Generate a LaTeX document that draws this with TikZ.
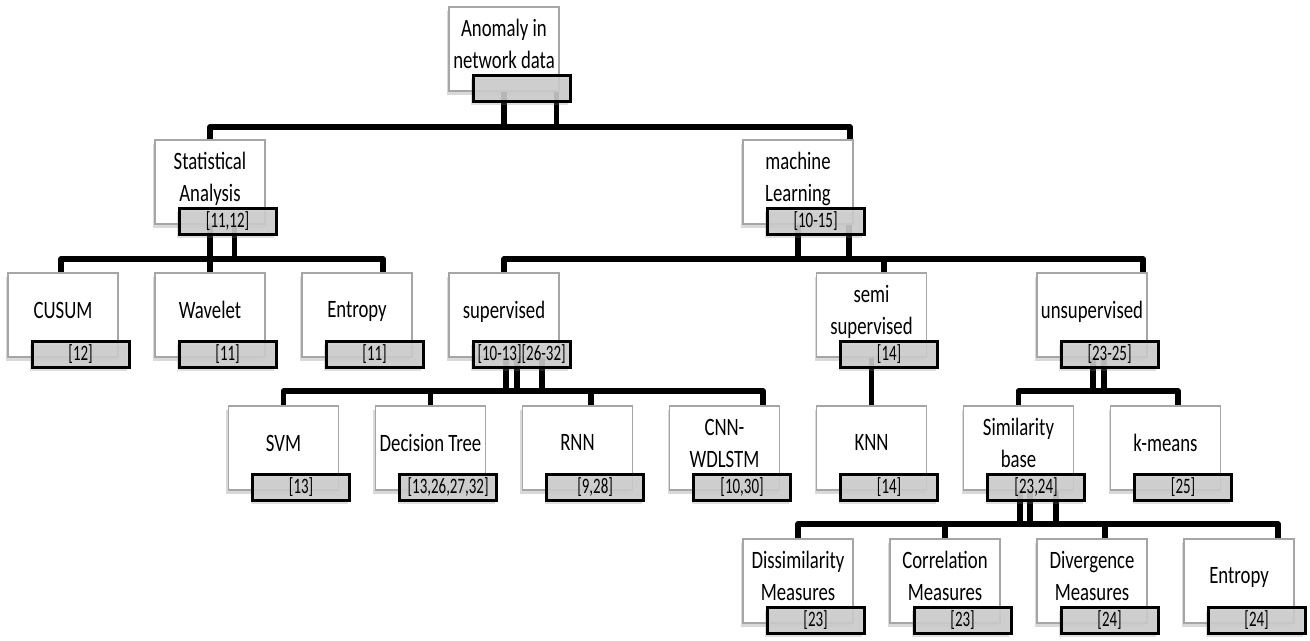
\documentclass[tikz,border=0pt]{standalone}
\usepackage{fontspec}
\setmainfont{Carlito}[FakeStretch=0.75]
\newfontfamily\reffont{Carlito}[FakeStretch=0.68]
\usetikzlibrary{positioning,shadows}

\begin{document}
\begin{tikzpicture}[
    x=36.75pt, y=-66.5pt,
    box/.style={draw=black!35, line width=0.6pt, fill=white, minimum width=55pt, minimum height=42pt, inner sep=1pt, align=center, text depth=5pt, font=\fontsize{12.5}{16}\selectfont, drop shadow={shadow xshift=-1pt, shadow yshift=-2pt, opacity=0.3}},
    ref/.style={draw=black, line width=1.5pt, fill=black!20, fill opacity=0.88, text opacity=1, minimum width=48.5pt, minimum height=13pt, inner sep=0pt, outer sep=0pt, anchor=north east, font=\reffont\fontsize{11}{12}\selectfont, drop shadow={shadow xshift=-1pt, shadow yshift=-2pt, opacity=0.25}},
    link/.style={line width=2.9pt, line join=round},
    node distance=17.9pt
  ]
  \useasboundingbox (-0.857,-0.368) rectangle (16.966,4.451);

  \node[box] (anomaly) at (6,0) {Anomaly in\\network data};
  \node[box] (stat) at (2,1) {Statistical\\Analysis};
  \node[box] (ml) at (10,1) {machine\\Learning};
  \node[box] (cusum) at (0,2) {CUSUM};
  \node[box, right=of cusum] (wavelet) {Wavelet};
  \node[box, right=of wavelet] (entropy) {Entropy};
  \node[box, right=of entropy] (sup) {supervised};
  \node[box] (semi) at (11,2) {semi\\supervised};
  \node[box] (unsup) at (14,2) {unsupervised};
  \node[box] (svm) at (3,3) {SVM};
  \node[box, right=of svm] (dtree) {Decision Tree};
  \node[box, right=of dtree] (rnn) {RNN};
  \node[box, right=of rnn] (cnn) {CNN-\\WDLSTM};
  \node[box, right=of cnn] (knn) {KNN};
  \node[box, right=of knn] (simil) {Similarity\\base};
  \node[box, right=of simil] (kmeans) {k-means};
  \node[box] (dissim) at (10,4) {Dissimilarity\\Measures};
  \node[box, right=of dissim] (correl) {Correlation\\Measures};
  \node[box, right=of correl] (diverg) {Divergence\\Measures};
  \node[box, right=of diverg] (entropy2) {Entropy};

  \draw[link] (anomaly.south) -- ++(0pt,-18.5pt);
  \draw[link] ([xshift=26.25pt]anomaly.south) -- ++(0pt,-18.5pt);
  \draw[link] (stat.north) -- ++(0pt,6pt) -| ([xshift=26pt]ml.north);

  \draw[link] (stat.south) -- ++(0pt,-18pt);
  \draw[link] ([xshift=12.25pt]stat.south) -- ++(0pt,-18pt);
  \draw[link] ([xshift=-1pt]cusum.north) -- ++(0pt,6.5pt) -| ([xshift=13pt]entropy.north);
  \draw[link] (wavelet.north) -- ++(0pt,6.5pt);

  \draw[link] (ml.south) -- ++(0pt,-18pt);
  \draw[link] ([xshift=25.5pt]ml.south) -- ++(0pt,-18pt);
  \draw[link] (sup.north) -- ++(0pt,6.5pt) -| ([xshift=25.5pt]unsup.north);
  \draw[link] ([xshift=6.25pt]semi.north) -- ++(0pt,6.5pt);

  \draw[link] ([xshift=1pt]sup.south) -- ++(0pt,-17.5pt);
  \draw[link] ([xshift=6.5pt]sup.south) -- ++(0pt,-17.5pt);
  \draw[link] ([xshift=19pt]sup.south) -- ++(0pt,-17.5pt);
  \draw[link] (svm.north) -- ++(0pt,7pt) -| ([xshift=19.25pt]cnn.north);
  \draw[link] (dtree.north) -- ++(0pt,7pt);
  \draw[link] ([xshift=6.75pt]rnn.north) -- ++(0pt,7pt);

  \draw[link] (semi.south) -- (knn.north);

  \draw[link] ([xshift=0.5pt]unsup.south) -- ++(0pt,-17.5pt);
  \draw[link] ([xshift=6pt]unsup.south) -- ++(0pt,-17.5pt);
  \draw[link] (simil.north) -- ++(0pt,7pt) -| ([xshift=6.25pt]kmeans.north);

  \draw[link] ([xshift=0.75pt]simil.south) -- ++(0pt,-17.5pt);
  \draw[link] ([xshift=5.75pt]simil.south) -- ++(0pt,-17.5pt);
  \draw[link] ([xshift=18.75pt]simil.south) -- ++(0pt,-17.5pt);
  \draw[link] (dissim.north) -- ++(0pt,7pt) -| ([xshift=19.5pt]entropy2.north);
  \draw[link] (correl.north) -- ++(0pt,7pt);
  \draw[link] ([xshift=6.5pt]diverg.north) -- ++(0pt,7pt);

  \node[ref] (anomaly-r) at ([shift={(5.25pt,8.25pt)}]anomaly.south east) {};
  \node[ref] (stat-r) at ([shift={(5.25pt,8.25pt)}]stat.south east) {[11,12]};
  \node[ref] (ml-r) at ([shift={(5.25pt,8.25pt)}]ml.south east) {[10-15]};
  \node[ref] (cusum-r) at ([shift={(5.25pt,8.25pt)}]cusum.south east) {[12]};
  \node[ref] (wavelet-r) at ([shift={(5.25pt,8.25pt)}]wavelet.south east) {[11]};
  \node[ref] (entropy-r) at ([shift={(5.25pt,8.25pt)}]entropy.south east) {[11]};
  \node[ref] (sup-r) at ([shift={(5.25pt,8.25pt)}]sup.south east) {[10-13][26-32]};
  \node[ref] (semi-r) at ([shift={(5.25pt,8.25pt)}]semi.south east) {[14]};
  \node[ref] (unsup-r) at ([shift={(5.25pt,8.25pt)}]unsup.south east) {[23-25]};
  \node[ref] (svm-r) at ([shift={(5.25pt,8.25pt)}]svm.south east) {[13]};
  \node[ref] (dtree-r) at ([shift={(5.25pt,8.25pt)}]dtree.south east) {[13,26,27,32]};
  \node[ref] (rnn-r) at ([shift={(5.25pt,8.25pt)}]rnn.south east) {[9,28]};
  \node[ref] (cnn-r) at ([shift={(5.25pt,8.25pt)}]cnn.south east) {[10,30]};
  \node[ref] (knn-r) at ([shift={(5.25pt,8.25pt)}]knn.south east) {[14]};
  \node[ref] (simil-r) at ([shift={(5.25pt,8.25pt)}]simil.south east) {[23,24]};
  \node[ref] (kmeans-r) at ([shift={(5.25pt,8.25pt)}]kmeans.south east) {[25]};
  \node[ref] (dissim-r) at ([shift={(5.25pt,8.25pt)}]dissim.south east) {[23]};
  \node[ref] (correl-r) at ([shift={(5.25pt,8.25pt)}]correl.south east) {[23]};
  \node[ref] (diverg-r) at ([shift={(5.25pt,8.25pt)}]diverg.south east) {[24]};
  \node[ref] (entropy2-r) at ([shift={(5.25pt,8.25pt)}]entropy2.south east) {[24]};
\end{tikzpicture}
\end{document}
